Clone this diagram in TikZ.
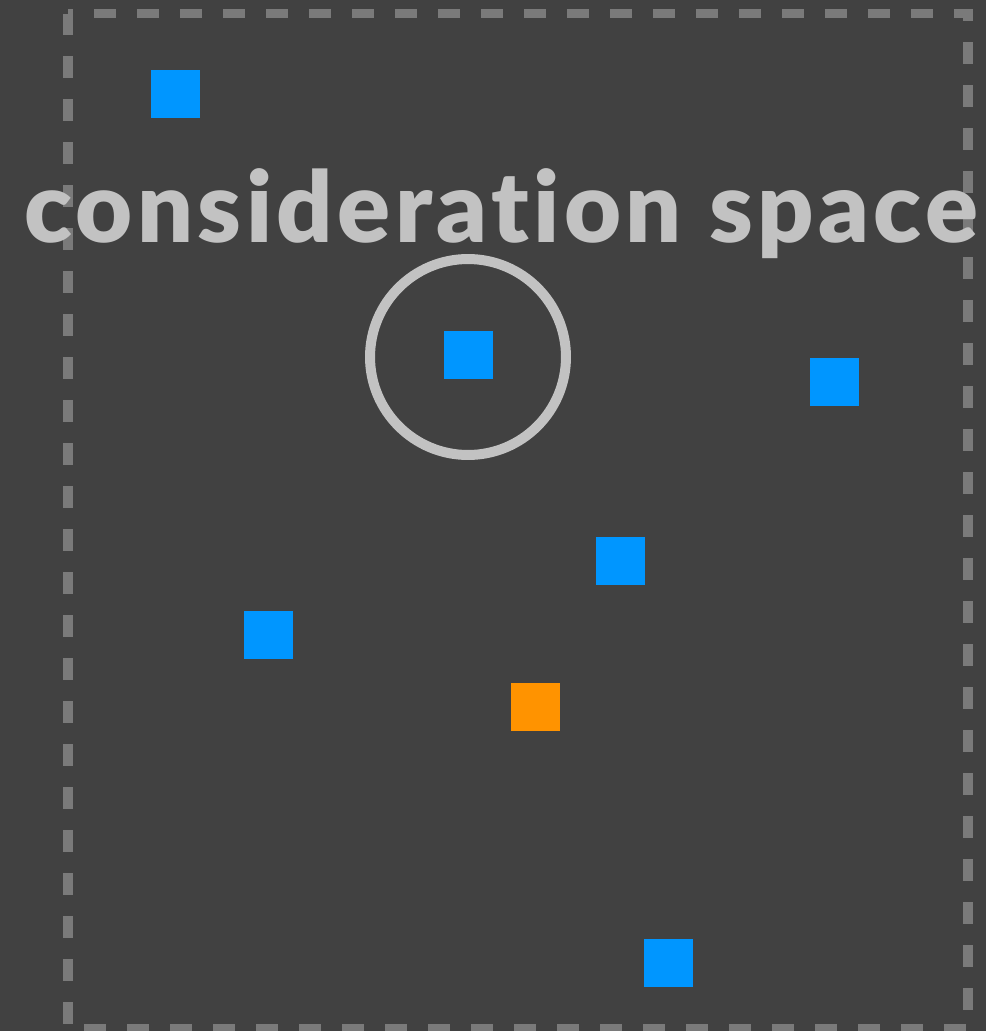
\documentclass[tikz,border=0pt]{standalone}
\usepackage{fontspec}
\newfontfamily\titlefont{Lato}[UprightFont={* Black}, LetterSpace=4.5, Ligatures=NoCommon]
\usepackage{tikz}
\usetikzlibrary{positioning}

\definecolor{bgdark}{HTML}{414141}
\definecolor{framegray}{HTML}{7A7A7A}
\definecolor{lightgray}{HTML}{C2C2C2}
\definecolor{itemblue}{HTML}{0096FF}
\definecolor{itemorange}{HTML}{FF9300}

\begin{document}
\begin{tikzpicture}[
  x=0.02cm, y=-0.02cm,
  item/.style={rectangle, fill=itemblue, minimum width=0.98cm, minimum height=0.96cm, inner sep=0pt},
  odd/.style={item, fill=itemorange},
  frame/.style={draw=framegray, line width=0.2cm, dash pattern=on 0.44cm off 0.42cm},
  ring/.style={circle, draw=lightgray, line width=0.2cm, minimum size=3.92cm, inner sep=0pt}
]
\fill[bgdark] (0,0) rectangle (986,1031);
\useasboundingbox (0,0) rectangle (986,1031);
\clip (0,0) rectangle (986,1031);

% frame of the space
\draw[frame] (68,13.5) rectangle (968,1029);

% items
\node[item] (a) at (175.5,94)  {};
\node[item] (b) at (468.5,355) {};
\node[item] (c) at (834.5,382) {};
\node[item] (d) at (620.5,561) {};
\node[item] (e) at (268.5,635) {};
\node[odd]  (f) at (535.5,707) {};
\node[item] (g) at (668.5,963) {};

% selected one
\node[ring] (sel) at (468,357) {};

\node[anchor=base, text=lightgray, font=\titlefont\fontsize{56}{60}\selectfont] (title) at (501,242) {consideration space};
\end{tikzpicture}
\end{document}
